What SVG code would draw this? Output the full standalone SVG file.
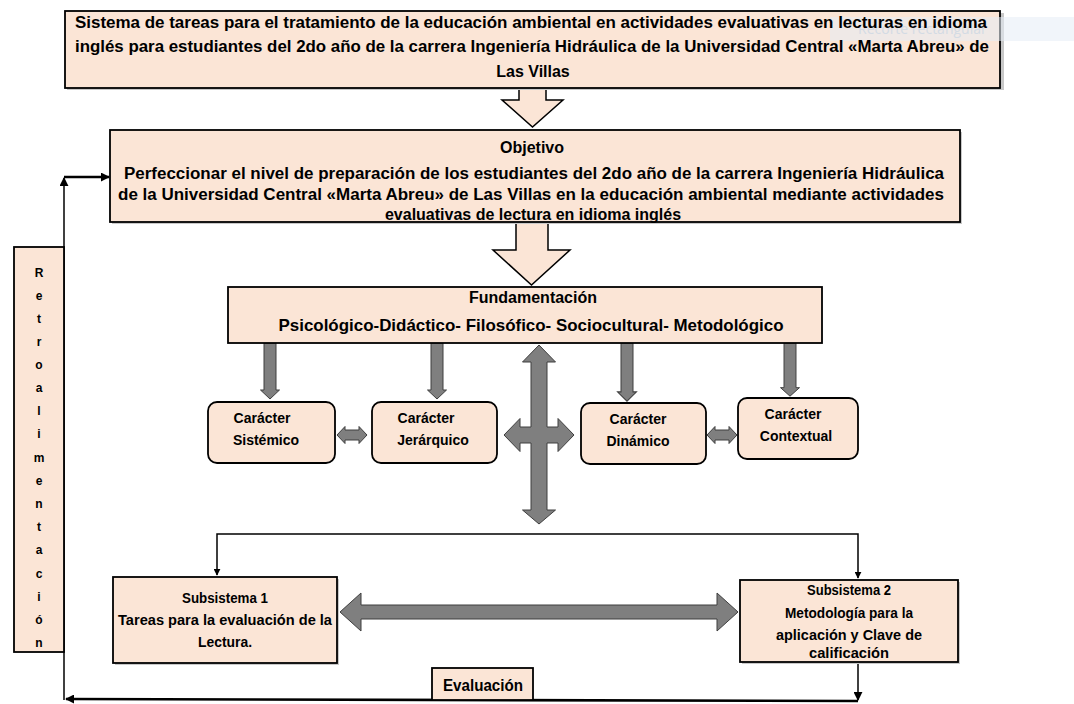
<svg xmlns="http://www.w3.org/2000/svg" width="1074" height="704" viewBox="0 0 1074 704">
<defs>
<style>
.box{fill:#FBE5D6;stroke:#000;stroke-width:1.8}
.shadow{fill:#C8C8C8}
.hollow{fill:#FBE5D6;stroke:#000;stroke-width:1.5}
.gray{fill:#7F7F7F;stroke:#3F3F3F;stroke-width:1}
.t{font-family:"Liberation Sans",Arial,sans-serif;fill:#000;text-anchor:middle}
.reg{font-size:16px;font-weight:bold}
.bold{font-size:14px;font-weight:bold}
.sb{font-size:14px;font-weight:bold}
.rl{font-family:"Liberation Sans",Arial,sans-serif;font-size:12px;font-weight:bold;text-anchor:middle;fill:#000}
.ln{fill:none;stroke:#000;stroke-width:1.5}
.lnb{fill:none;stroke:#000;stroke-width:2.6}
</style>
<marker id="ah" viewBox="0 0 10 10" refX="9" refY="5" markerWidth="7" markerHeight="7" markerUnits="userSpaceOnUse" orient="auto">
<path d="M0,0 L10,5 L0,10 z" fill="#000"/>
</marker>
<marker id="ahb" viewBox="0 0 10 10" refX="9" refY="5" markerWidth="9" markerHeight="9" markerUnits="userSpaceOnUse" orient="auto">
<path d="M0,0 L10,5 L0,10 z" fill="#000"/>
</marker>
<path id="down" d="M-6,0 H6 V47 H9.5 L0,56 L-9.5,47 H-6 Z"/>
<path id="dbl" d="M-15,0 L-7,-8.5 V-5 H7 V-8.5 L15,0 L7,8.5 V5 H-7 V8.5 Z"/>
</defs>
<rect width="1074" height="704" fill="#fff"/>

<g id="connectors">
<path class="ln" d="M64,700 V178" marker-end="url(#ahb)"/>
<path class="lnb" d="M64,177 H109" marker-end="url(#ahb)"/>
<path class="ln" d="M858,662 V700" marker-end="url(#ahb)"/>
<path class="lnb" d="M858,701 L66,699" marker-end="url(#ahb)"/>
<path class="ln" d="M532,534 H217 V575" marker-end="url(#ah)"/>
<path class="ln" d="M532,534 H858 V578" marker-end="url(#ah)"/>
<use href="#down" class="gray" transform="translate(270,343)"/>
<use href="#down" class="gray" transform="translate(437,343)"/>
<use href="#down" class="gray" transform="translate(627,343) scale(1,1.04)"/>
<use href="#down" class="gray" transform="translate(790,343) scale(1,0.95)"/>
<use href="#dbl" class="gray" transform="translate(352,435)"/>
<use href="#dbl" class="gray" transform="translate(722,435)"/>
<polygon class="gray" points="539,345 555.5,362 547,362 547,427 558,427 558,418.5 574,435 558,451.5 558,443 547,443 547,510 555.5,510 539,524 522.5,510 531,510 531,443 520,443 520,451.5 504,435 520,418.5 520,427 531,427 531,362 522.5,362"/>
<path class="gray" d="M340,612 L361,593 V605 H717 V593 L738,612 L717,631 V619 H361 V631 Z"/>
<path class="hollow" d="M519,88 H546 V100 H563 L532.5,127 L502,100 H519 Z"/>
<path class="hollow" d="M516,223 H548 V250 H570 L531.5,285 L493,250 H516 Z"/>
</g>

<g id="titulo">
<rect class="shadow" x="67" y="13" width="937" height="77"/>
<rect class="box" x="65" y="11" width="935" height="77"/>
<rect x="830" y="17" width="244" height="24" fill="#E6EDF6" opacity="0.55"/>
<text x="858" y="34" font-family="'Open Sans','Liberation Sans',sans-serif" font-size="14" fill="#D3DBE4">Recorte rectangular</text>
<text class="t reg" x="531" y="28" textLength="912" lengthAdjust="spacingAndGlyphs">Sistema de tareas para el tratamiento de la educación ambiental en actividades evaluativas  en lecturas en idioma</text>
<text class="t reg" x="532" y="52" textLength="914" lengthAdjust="spacingAndGlyphs">inglés para estudiantes del 2do año de la carrera Ingeniería Hidráulica de la Universidad Central «Marta Abreu» de</text>
<text class="t reg" x="533" y="77">Las Villas</text>
</g>

<g id="objetivo">
<rect class="shadow" x="112" y="132" width="850" height="92"/>
<rect class="box" x="110" y="130" width="850" height="92"/>
<text class="t reg" x="532" y="153">Objetivo</text>
<text class="t reg" x="534" y="179" textLength="820" lengthAdjust="spacingAndGlyphs">Perfeccionar el nivel de preparación de los estudiantes del 2do año de la carrera Ingeniería Hidráulica</text>
<text class="t reg" x="531" y="200" textLength="826" lengthAdjust="spacingAndGlyphs">de la Universidad Central «Marta Abreu» de Las Villas en la educación ambiental mediante actividades</text>
<text class="t reg" x="533" y="220">evaluativas de lectura en idioma inglés</text>
</g>

<g id="fundamentacion">
<rect class="box" x="228" y="287" width="594" height="56"/>
<text class="t" x="533" y="303" font-size="16" font-weight="bold">Fundamentación</text>
<text class="t" x="531" y="331" font-size="17" font-weight="bold" textLength="505" lengthAdjust="spacingAndGlyphs">Psicológico-Didáctico- Filosófico- Sociocultural- Metodológico</text>
</g>

<g id="sistemico">
<rect class="box" x="208" y="402" width="127" height="61" rx="9"/>
<text class="t bold" x="262" y="423">Carácter</text>
<text class="t bold" x="266" y="445">Sistémico</text>
</g>
<g id="jerarquico">
<rect class="box" x="372" y="402" width="125" height="61" rx="9"/>
<text class="t bold" x="426" y="423">Carácter</text>
<text class="t bold" x="433" y="445">Jerárquico</text>
</g>
<g id="dinamico">
<rect class="box" x="581" y="403" width="125" height="61" rx="9"/>
<text class="t bold" x="638" y="424">Carácter</text>
<text class="t bold" x="638" y="446">Dinámico</text>
</g>
<g id="contextual">
<rect class="box" x="738" y="398" width="120" height="61" rx="9"/>
<text class="t bold" x="793" y="419">Carácter</text>
<text class="t bold" x="796" y="441">Contextual</text>
</g>

<g id="retroalimentacion">
<rect class="box" x="14" y="247" width="50" height="405"/>
<text class="rl" x="39" y="277">R</text><text class="rl" x="39" y="300">e</text><text class="rl" x="39" y="323">t</text><text class="rl" x="39" y="346">r</text><text class="rl" x="39" y="369">o</text><text class="rl" x="39" y="392">a</text><text class="rl" x="39" y="415">l</text><text class="rl" x="39" y="438">i</text><text class="rl" x="39" y="462">m</text><text class="rl" x="39" y="485">e</text><text class="rl" x="39" y="508">n</text><text class="rl" x="39" y="531">t</text><text class="rl" x="39" y="554">a</text><text class="rl" x="39" y="578">c</text><text class="rl" x="39" y="601">i</text><text class="rl" x="39" y="624">ó</text><text class="rl" x="39" y="647">n</text>
</g>

<g id="subsistema1">
<rect class="shadow" x="115" y="579" width="224" height="86"/>
<rect class="box" x="113" y="577" width="224" height="86"/>
<text class="t sb" x="225" y="603" textLength="86" lengthAdjust="spacingAndGlyphs">Subsistema 1</text>
<text class="t sb" x="225" y="625" textLength="214" lengthAdjust="spacingAndGlyphs">Tareas para la evaluación de la</text>
<text class="t sb" x="225" y="647" textLength="54" lengthAdjust="spacingAndGlyphs">Lectura.</text>
</g>

<g id="subsistema2">
<rect class="shadow" x="742" y="582" width="218" height="82"/>
<rect class="box" x="740" y="580" width="218" height="82"/>
<text class="t sb" x="849" y="595" textLength="84" lengthAdjust="spacingAndGlyphs">Subsistema 2</text>
<text class="t sb" x="849" y="618" textLength="128" lengthAdjust="spacingAndGlyphs">Metodología para la</text>
<text class="t sb" x="849" y="640" textLength="146" lengthAdjust="spacingAndGlyphs">aplicación y Clave de</text>
<text class="t sb" x="849" y="658" textLength="80" lengthAdjust="spacingAndGlyphs">calificación</text>
</g>

<g id="evaluacion">
<rect class="box" x="432" y="668" width="101" height="32"/>
<text class="t" x="483" y="691" font-size="16" font-weight="bold" textLength="80" lengthAdjust="spacingAndGlyphs">Evaluación</text>
</g>
</svg>
